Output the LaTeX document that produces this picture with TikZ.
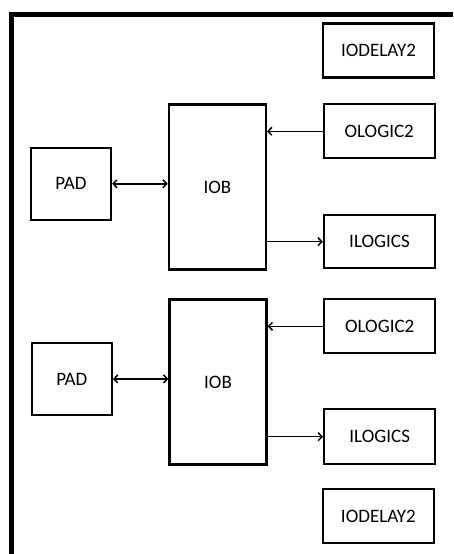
\documentclass[tikz,border=0pt]{standalone}
\usepackage{fontspec}
\setmainfont{Carlito}
\usetikzlibrary{arrows.meta}
\tikzset{mytip/.tip={Straight Barb[length=3.8pt,width=8pt,line width=1.5pt]}}
\begin{document}
\begin{tikzpicture}[x=1pt,y=-1pt,
  blk/.style={draw=black,line width=2.3pt,minimum width=#1,inner sep=0pt,font=\fontsize{19}{22}\selectfont,text=black},
  conn/.style={line width=1.5pt,draw=black}]
\useasboundingbox (0,0) rectangle (453,554);
\draw[line width=5pt] (11.5,554) -- (11.5,14.5) -- (453,14.5);
% upper group
\node[blk=111pt,minimum height=54pt] (iod1) at (378.5,50.5) {IODELAY2};
\node[blk=111pt,minimum height=54pt] (olog1) at (379.2,131.3) {OLOGIC2};
\node[blk=111pt,minimum height=53pt] (ilog1) at (379.5,241.7) {ILOGICS};
\node[blk=97pt,minimum height=165pt] (iob1) at (217.4,187) {IOB};
\node[blk=80pt,minimum height=72pt] (pad1) at (71,183.8) {PAD};
% lower group
\node[blk=111pt,minimum height=54pt] (olog2) at (379.7,326.3) {OLOGIC2};
\node[blk=111pt,minimum height=55pt] (ilog2) at (379.7,436.7) {ILOGICS};
\node[blk=97pt,minimum height=165pt] (iob2) at (218,382) {IOB};
\node[blk=80pt,minimum height=72pt] (pad2) at (71.8,378.9) {PAD};
\node[blk=111pt,minimum height=54pt] (iod2) at (378.4,516.3) {IODELAY2};
% connectors
\draw[conn,{mytip}-{mytip}] (pad1.east) -- (pad1.east -| iob1.west);
\draw[conn,-{mytip}] (olog1.west) -- (olog1.west -| iob1.east);
\draw[conn,-{mytip}] (ilog1.west -| iob1.east) -- (ilog1.west);
\draw[conn,{mytip}-{mytip}] (pad2.east) -- (pad2.east -| iob2.west);
\draw[conn,-{mytip}] (olog2.west) -- (olog2.west -| iob2.east);
\draw[conn,-{mytip}] (ilog2.west -| iob2.east) -- (ilog2.west);
\end{tikzpicture}
\end{document}
